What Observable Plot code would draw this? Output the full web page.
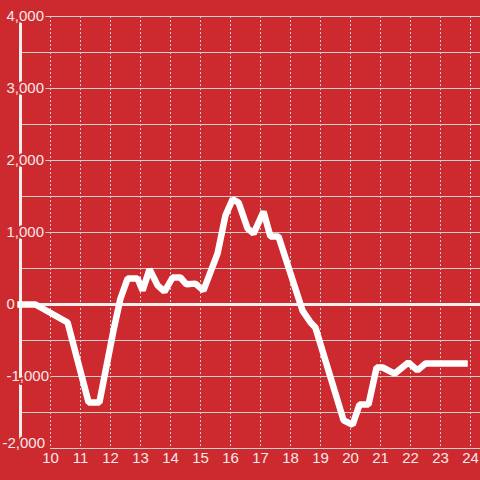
<!DOCTYPE html>
<html>
<head>
<meta charset="utf-8">
<script src="https://cdn.jsdelivr.net/npm/d3@7"></script>
<script src="https://cdn.jsdelivr.net/npm/@observablehq/plot@0.6"></script>
<style>
  html, body { margin: 0; padding: 0; background: #cd2a2f; }
  #chart { width: 480px; height: 480px; }
</style>
</head>
<body>
<div id="chart"></div>
<script>
// Hours of day (x) and values (y)
const hours = [9, 9.5, 10.57, 11.27, 11.63, 12.1, 12.33, 12.57, 12.9, 13.07, 13.3, 13.57, 13.8,
  14.07, 14.33, 14.53, 14.83, 15.1, 15.57, 15.83, 16.07, 16.27, 16.57, 16.77, 17.1, 17.33, 17.6,
  18.4, 18.67, 18.83, 19.77, 20.07, 20.3, 20.6, 20.87, 21.07, 21.47, 21.93, 22.23, 22.5, 23.8];
const values = [0, 0, -250, -1360, -1360, -360, 80, 360, 360, 195, 490, 265, 180,
  375, 375, 280, 290, 195, 710, 1235, 1460, 1415, 1055, 985, 1290, 945, 945,
  -85, -250, -320, -1610, -1670, -1390, -1390, -875, -875, -960, -805, -915, -820, -820];

const xTicks = [10, 11, 12, 13, 14, 15, 16, 17, 18, 19, 20, 21, 22, 23, 24];
const yTicks = [-2000, -1000, 0, 1000, 2000, 3000, 4000];
const yMinorGrid = [-1500, -1000, -500, 500, 1000, 1500, 2000, 2500, 3000, 3500, 4000];

const bg = "#cd2a2f";
const gridColor = "#cfcfcf";
const textColor = "#f5e8e8";
const fmt = d => d.toLocaleString("en-US");

const data = hours.map((h, i) => ({hour: h, value: values[i]}));
const topLabels = yTicks.filter(d => d !== -2000);

const chart = Plot.plot({
  width: 480,
  height: 480,
  marginLeft: 20,
  marginRight: 0,
  marginTop: 16,
  marginBottom: 32,
  x: {domain: [9, 24.333], axis: null},
  y: {domain: [-2000, 4000], axis: null},
  style: {background: bg, fontFamily: "'Liberation Sans', Arial, sans-serif", fontSize: "15px"},
  marks: [
    Plot.ruleY(yMinorGrid, {stroke: gridColor, strokeWidth: 1}),
    Plot.ruleY([-2000], {stroke: gridColor, strokeWidth: 1, insetLeft: 30}),
    Plot.ruleX(xTicks, {stroke: gridColor, strokeWidth: 1, strokeDasharray: "2,2"}),
    Plot.ruleX([9], {stroke: "#f4efef", strokeWidth: 3}),
    Plot.ruleY([0], {stroke: "#f4efef", strokeWidth: 3}),
    Plot.line(data, {x: "hour", y: "value", stroke: "white", strokeWidth: 6.5,
      strokeLinejoin: "miter", strokeLinecap: "square"}),
    Plot.text(topLabels, {y: d => d, text: fmt, frameAnchor: "left", textAnchor: "start",
      dx: -14, fill: textColor, stroke: bg, strokeWidth: 4, fontSize: 15}),
    Plot.text([-2000], {y: d => d, text: fmt, frameAnchor: "left", textAnchor: "start",
      dx: -18, dy: -5, fill: textColor, stroke: bg, strokeWidth: 4, fontSize: 15}),
    Plot.text(xTicks, {x: d => d, text: d => String(d), frameAnchor: "bottom", textAnchor: "middle",
      lineAnchor: "top", dy: 4, fill: textColor, fontSize: 15})
  ]
});
document.getElementById("chart").appendChild(chart);
</script>
</body>
</html>
